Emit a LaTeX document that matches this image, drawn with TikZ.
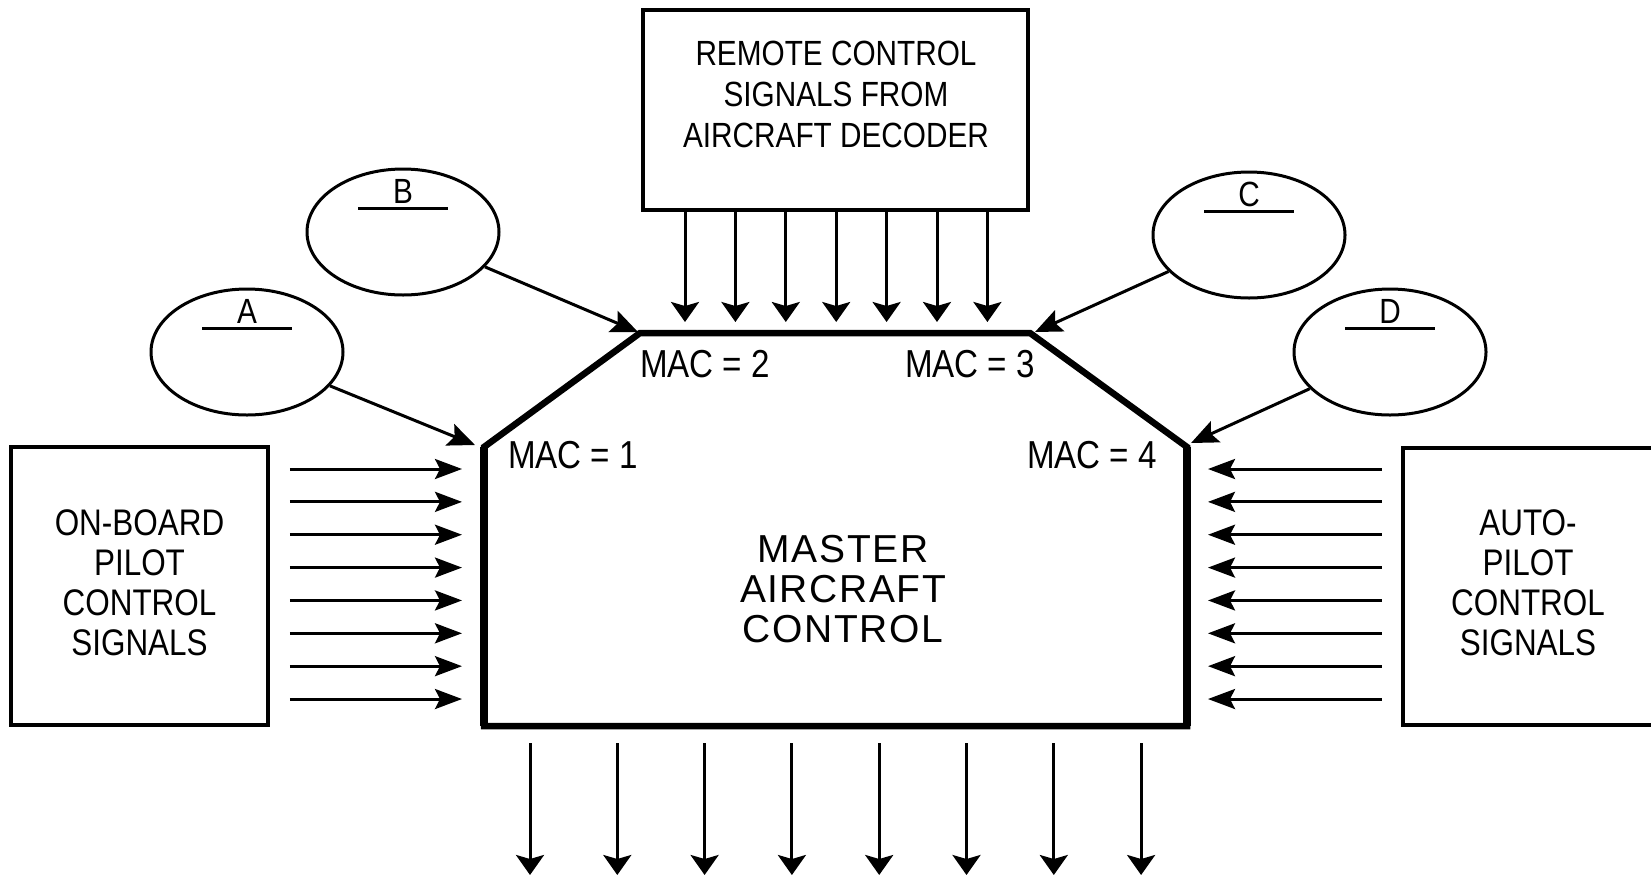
\documentclass[tikz,border=0pt]{standalone}
\usepackage{fontspec}
\setmainfont{Liberation Sans}[FakeStretch=0.85]
\newfontfamily\widefont{Liberation Sans}[LetterSpace=4]
\usetikzlibrary{arrows.meta,calc,shapes.geometric}
\begin{document}
\begin{tikzpicture}[x=1pt,y=-1pt,
  box/.style={draw, line width=3.5pt, inner sep=0pt},
  wire/.style={line width=3pt},
  harr/.style={wire, -{Stealth[length=27pt,width=20pt,inset=5pt]}},
  varr/.style={wire, -{Stealth[length=20pt,width=28pt,inset=4pt]}},
  darr/.style={wire, -{Stealth[length=27pt,width=23pt,inset=5pt]}},
  ell/.style={draw, ellipse, line width=3pt, minimum width=192pt, minimum height=126pt, inner sep=0pt},
  lbl/.style={font=\fontsize{37}{40}\selectfont, align=center, inner sep=0pt},
  rlbl/.style={font=\fontsize{35}{41}\selectfont, align=center, inner sep=0pt},
  mlbl/.style={font=\widefont\fontsize{39}{40}\selectfont, align=center, inner sep=0pt},
  mac/.style={font=\fontsize{39}{40}\selectfont, inner sep=0pt},
  letter/.style={font=\fontsize{35}{40}\selectfont, inner sep=0pt},
  hex/.style={line width=6.5pt, line join=miter}
]
\useasboundingbox (0,0) rectangle (1651,879);

% boxes
\node[box, minimum width=385pt, minimum height=200pt] (remote) at (835.5,110) {};
\node[rlbl] (remote-t) at (836,94) {REMOTE CONTROL\\SIGNALS FROM\\AIRCRAFT DECODER};

\node[box, minimum width=257pt, minimum height=278pt] (onboard) at (139.5,586) {};
\node[lbl] (onboard-t) at (139.5,583) {ON-BOARD\\PILOT\\CONTROL\\SIGNALS};

\node[inner sep=0pt, minimum width=248pt, minimum height=277pt] (autop) at (1527,586.5) {};
\draw[line width=3.5pt] (autop.north east) -- (autop.north west) -- (autop.south west) -- (autop.south east);
\node[lbl] (autop-t) at (1528,583) {AUTO-\\PILOT\\CONTROL\\SIGNALS};

% master aircraft control hexagon
\coordinate (mac1) at (484,447);
\coordinate (mac2) at (640,333);
\coordinate (mac3) at (1030,333);
\coordinate (mac4) at (1187,447);
\coordinate (br) at (1187,726);
\coordinate (bl) at (484,726);
\draw[hex] (bl) -- (mac1) -- (mac2) -- (mac3) -- (mac4) -- (br) -- cycle;
\draw[line width=8.5pt] (bl) -- (mac1);
\draw[line width=8.5pt] (br) -- (mac4);
\node[mlbl] (master) at (843,589) {MASTER\\AIRCRAFT\\CONTROL};

\node[mac] (m1) at (573,455) {MAC = 1};
\node[mac] (m2) at (705,364) {MAC = 2};
\node[mac] (m3) at (970,364) {MAC = 3};
\node[mac] (m4) at (1092,455) {MAC = 4};

% ellipses
\node[ell] (A) at (247,352) {};
\node[ell] (B) at (403,232) {};
\node[ell] (C) at (1249,235) {};
\node[ell] (D) at (1390,352) {};
\foreach \n in {A,B,C,D}{
  \node[letter] (\n-t) at ($(\n)+(0,-41)$) {\n};
  \draw[wire] ($(\n)+(-45,-24)$) -- ($(\n)+(45,-24)$);
}

\draw[darr] (A) -- ($(mac1)+(-9,-2)$);
\draw[darr] (B) -- ($(mac2)+(-2,-1)$);
\draw[darr] (C) -- ($(mac3)+(5,-1)$);
\draw[darr] (D) -- ($(mac4)+(4,-4)$);

% top inputs
\foreach \i in {0,...,6}{
  \pgfmathsetmacro{\xx}{685+50.4*\i}
  \draw[varr] (remote.south -| \xx,0) -- (\xx,322);
}
% left and right inputs
\foreach \i in {0,...,7}{
  \pgfmathsetmacro{\yy}{469+32.86*\i}
  \draw[harr] ($(onboard.east |- 0,\yy)+(20,0)$) -- ($(mac1 |- 0,\yy)+(-22,0)$);
  \draw[harr] ($(autop.west |- 0,\yy)+(-21,0)$) -- ($(mac4 |- 0,\yy)+(21,0)$);
}
% outputs
\foreach \i in {0,...,7}{
  \pgfmathsetmacro{\xx}{530+87.3*\i}
  \draw[varr] ($(bl -| \xx,0)+(0,17)$) -- (\xx,875);
}
\end{tikzpicture}
\end{document}
